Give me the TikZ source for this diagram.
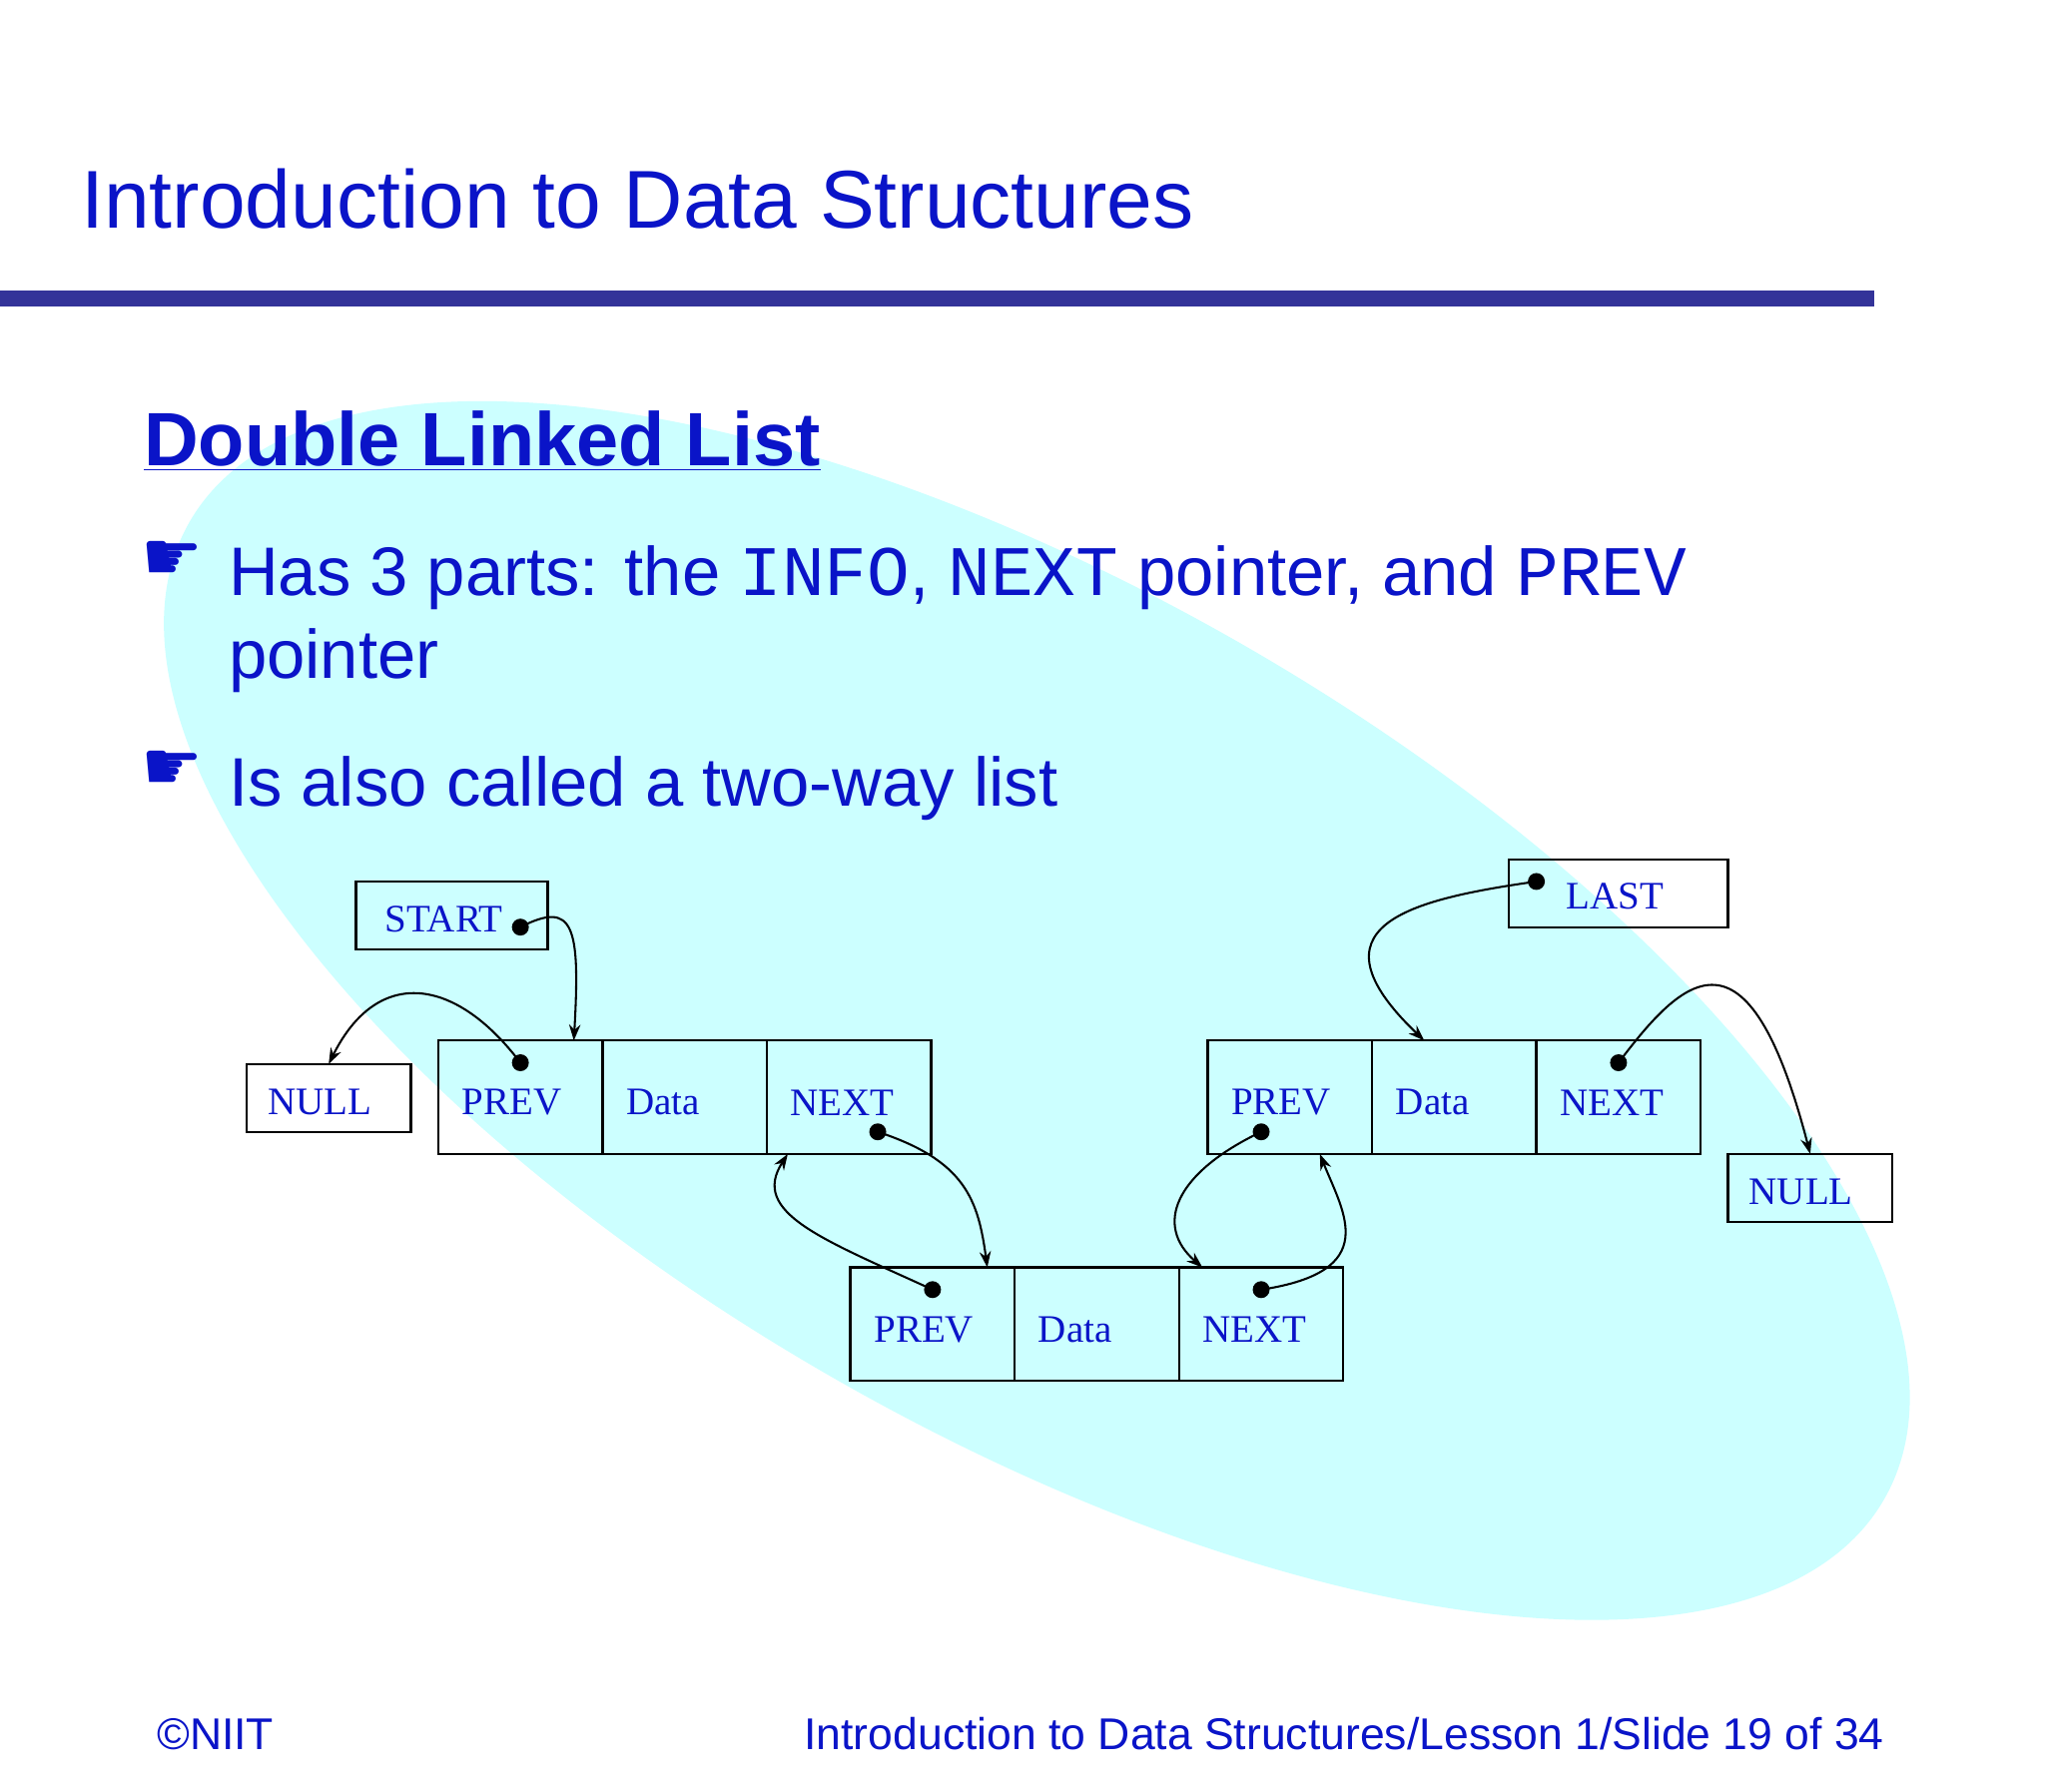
\documentclass[tikz,border=0pt]{standalone}
\usepackage{fontspec}
\setmainfont{Liberation Serif}
\setsansfont{Liberation Sans}
\setmonofont{Liberation Mono}
\newfontfamily\symfont{DejaVu Sans}
\usetikzlibrary{arrows.meta}
\definecolor{tblue}{RGB}{10,20,200}
\definecolor{bar}{RGB}{51,51,153}
\definecolor{cy}{RGB}{204,255,255}
\begin{document}
\begin{tikzpicture}[x=0.02cm,y=-0.02cm,
  cell/.style={draw,line width=1pt,minimum height=87*0.02cm,minimum width=126*0.02cm,inner sep=0,outer sep=0},
  lbl/.style={draw,line width=1pt,minimum height=52*0.02cm,inner sep=0,outer sep=0},
  ct/.style={font=\fontsize{17}{17}\selectfont,text=tblue},
  dotc/.style={circle,fill=black,inner sep=0,minimum size=13*0.02cm},
  ptr/.style={line width=0.9pt,-{Stealth[length=7pt,width=5pt]}},
  hand/.style={font=\symfont\fontsize{30}{30}\selectfont,text=tblue,anchor=base west,inner sep=0},
  sf/.style={font=\sffamily\fontsize{30}{30}\selectfont,text=tblue,anchor=base west,inner sep=0}]
\useasboundingbox (0,0) rectangle (1568,1374);
\fill[white] (0,0) rectangle (1568,1374);
\fill[cy,rotate around={-30:(795,775)}] (795,775) ellipse [x radius=750, y radius=322];
\node[font=\sffamily\fontsize{35.8}{36}\selectfont,text=tblue,anchor=base west,inner sep=0] (title) at (62,175) {Introduction to Data Structures};
\fill[bar] (0,223) rectangle (1437,235);
\node[font=\sffamily\bfseries\fontsize{33}{33}\selectfont,text=tblue,anchor=base west,inner sep=0] (head) at (110,357) {\underline{Double Linked List}};
\node[hand] (h1) at (108,445) {☛};
\node[sf] (b1) at (175,457) {Has 3 parts: the {\ttfamily\fontsize{31}{31}\selectfont INFO}, {\ttfamily\fontsize{31}{31}\selectfont NEXT} pointer, and {\ttfamily\fontsize{31}{31}\selectfont PREV}};
\node[sf] (b1b) at (175,520) {pointer};
\node[hand] (h2) at (108,606) {☛};
\node[sf] (b2) at (175,618) {Is also called a two-way list};
% boxes
\node[lbl,minimum width=147*0.02cm,anchor=north west] (start) at (273,676) {};
\node[ct,anchor=base west] (startt) at (289,715) {START};
\node[lbl,minimum width=126*0.02cm,anchor=north west] (null1) at (189,816) {};
\node[ct] (null1t) at (245,845) {NULL};
\node[lbl,minimum width=168*0.02cm,anchor=north west] (last) at (1157,659) {};
\node[ct,anchor=base west] (lastt) at (1195,697) {LAST};
\node[lbl,minimum width=126*0.02cm,anchor=north west] (null2) at (1325,885) {};
\node[ct] (null2t) at (1381,914) {NULL};
\foreach \n/\x/\y in {a/336/798,b/652/972,c/926/798}{
  \node[cell,anchor=north west] (\n1) at (\x,\y) {};
  \node[cell,anchor=west] (\n2) at (\n1.east) {};
  \node[cell,anchor=west] (\n3) at (\n2.east) {};
  \node[ct,anchor=west] (\n1t) at ([xshift=12*0.02cm,yshift=-4*0.02cm]\n1.west) {PREV};
  \node[ct,anchor=west] (\n2t) at ([xshift=12*0.02cm,yshift=-4*0.02cm]\n2.west) {Data};
  \node[ct,anchor=west] (\n3t) at ([xshift=12*0.02cm,yshift=-4*0.02cm]\n3.west) {NEXT};
}
\node[dotc] (ds) at (399,711) {};
\node[dotc] (dap) at (399,815) {};
\node[dotc] (dan) at (673,868) {};
\node[dotc] (dbp) at (715,989) {};
\node[dotc] (dbn) at (967,989) {};
\node[dotc] (dcp) at (967,868) {};
\node[dotc] (dcn) at (1241,815) {};
\node[dotc] (dl) at (1178,676) {};
\coordinate (aTop) at (440,798);
\coordinate (nullTop) at (252,816);
\coordinate (bTop) at (757,972);
\coordinate (aBot) at (604,885);
\coordinate (cBot) at (1012,885);
\coordinate (bTop2) at (922,972);
\coordinate (cTop) at (1092,798);
\coordinate (n2Top) at (1388,885);
\draw[ptr] (ds.center) .. controls (440,690) and (445,710) .. (aTop);
\draw[ptr] (dap.center) .. controls (350,750) and (290,740) .. (nullTop);
\draw[ptr] (dan.center) .. controls (740,890) and (750,920) .. (bTop);
\draw[ptr] (dbp.center) .. controls (630,950) and (575,930) .. (aBot);
\draw[ptr] (dbn.center) .. controls (1060,975) and (1030,930) .. (cBot);
\draw[ptr] (dcp.center) .. controls (900,900) and (885,940) .. (bTop2);
\draw[ptr] (dl.center) .. controls (1080,690) and (1000,710) .. (cTop);
\draw[ptr] (dcn.center) .. controls (1290,750) and (1340,700) .. (n2Top);
\node[font=\sffamily\fontsize{19.4}{19.4}\selectfont,text=tblue,anchor=base west,inner sep=0] (copy) at (120,1342) {©NIIT};
\node[font=\sffamily\fontsize{19.4}{19.4}\selectfont,text=tblue,anchor=base east,inner sep=0] (foot) at (1445,1342) {Introduction to Data Structures/Lesson 1/Slide 19 of 34};
\end{tikzpicture}
\end{document}
